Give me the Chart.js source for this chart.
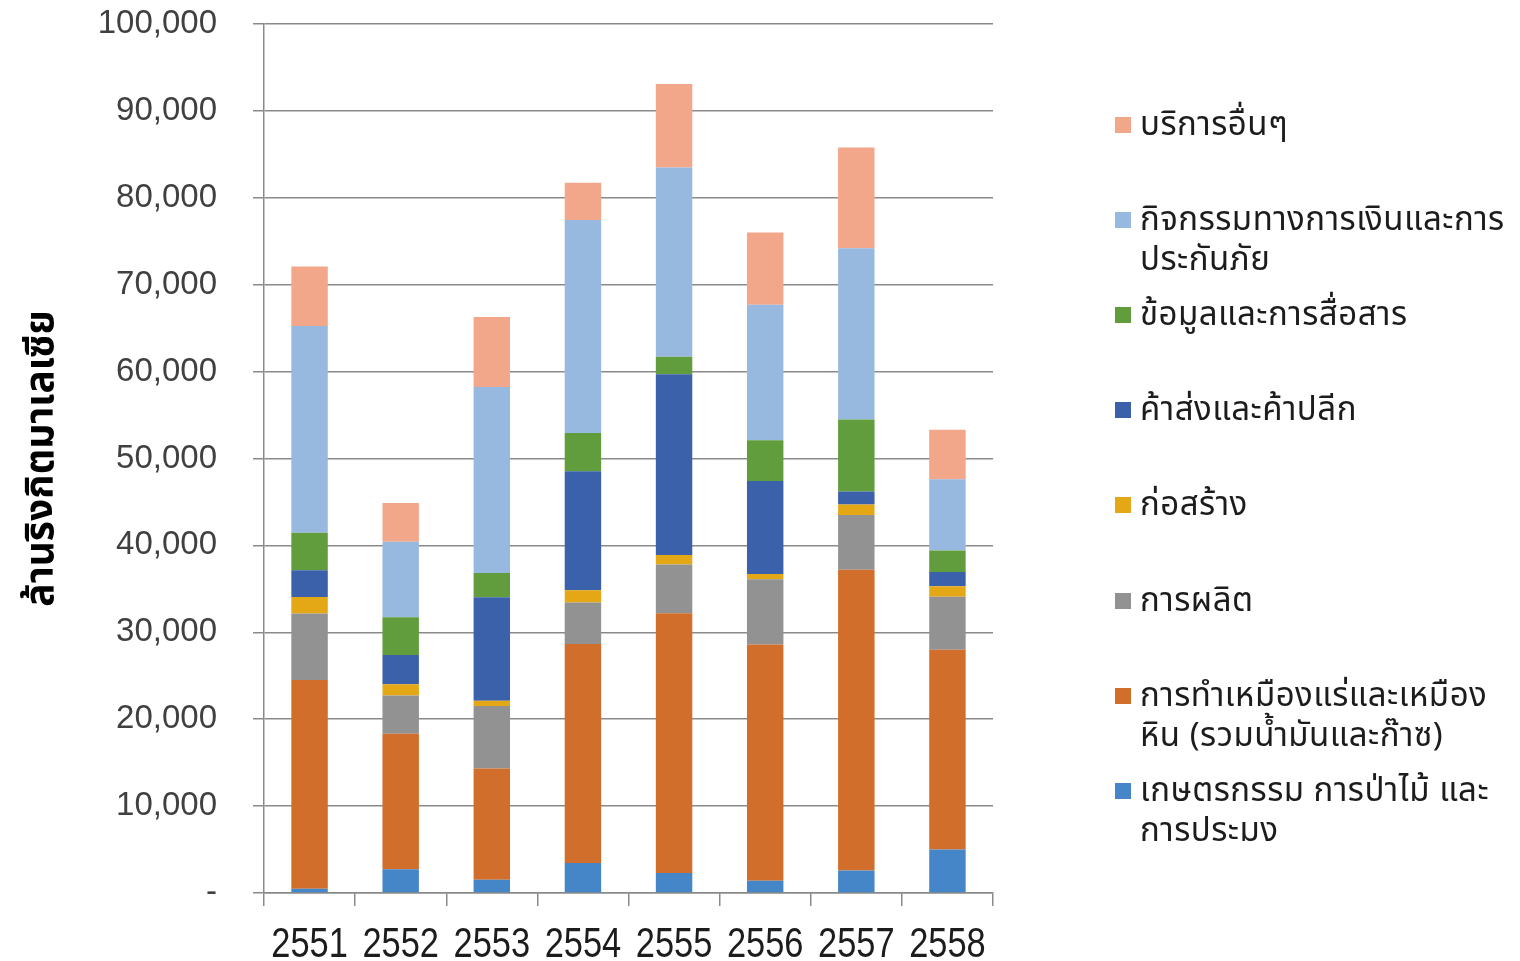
<!DOCTYPE html>
<html>
<head>
<meta charset="utf-8">
<script src="https://cdn.jsdelivr.net/npm/chart.js@4.4.0/dist/chart.umd.min.js"></script>
<style>
  html, body { margin: 0; padding: 0; background: #ffffff; }
  #wrap { position: relative; width: 1520px; height: 961px; }
  #legend { position: absolute; left: 0; top: 0; }
  .lg-item { position: absolute; left: 1115px; display: flex; align-items: flex-start; }
  .lg-box { width: 16px; height: 16px; margin-top: 12px; margin-right: 9px; flex: none; }
  .lg-text { font-family: Tahoma, "Noto Sans Thai", "Noto Sans", "DejaVu Sans", sans-serif; font-size: 33px; letter-spacing: 0.5px; line-height: 40px; color: #1c1c1c; white-space: nowrap; }
</style>
</head>
<body>
<div id="wrap">
  <canvas id="c" width="1520" height="961"></canvas>
  <div id="legend"></div>
</div>
<script>
const years = ['2551', '2552', '2553', '2554', '2555', '2556', '2557', '2558'];
const agriculture   = [500, 2730, 1530, 3440, 2300, 1400, 2600, 5000];
const mining        = [24000, 15600, 12800, 25200, 29900, 27200, 34600, 23000];
const manufacturing = [7650, 4400, 7200, 4800, 5600, 7500, 6300, 6100];
const construction  = [1900, 1300, 600, 1400, 1100, 600, 1200, 1200];
const trade         = [3100, 3350, 11900, 13700, 20800, 10700, 1500, 1650];
const infoComm      = [4300, 4350, 2800, 4400, 2000, 4700, 8300, 2450];
const finance       = [23800, 8700, 21400, 24500, 21800, 15600, 19700, 8200];
const otherServices = [6850, 4450, 8050, 4300, 9600, 8300, 11600, 5700];

const seriesNames = [
  ['เกษตรกรรม การป่าไม้ และ', 'การประมง'],
  ['การทำเหมืองแร่และเหมือง', 'หิน (รวมน้ำมันและก๊าซ)'],
  ['การผลิต'],
  ['ก่อสร้าง'],
  ['ค้าส่งและค้าปลีก'],
  ['ข้อมูลและการสื่อสาร'],
  ['กิจกรรมทางการเงินและการ', 'ประกันภัย'],
  ['บริการอื่นๆ']
];
const seriesValues = [agriculture, mining, manufacturing, construction, trade, infoComm, finance, otherServices];
const seriesColors = ['#4586c8', '#d26e2b', '#929292', '#e4a817', '#3a61aa', '#619d3d', '#98b9df', '#f2a68a'];
const yTitle = 'ล้านริงกิตมาเลเซีย';

const datasets = seriesValues.map((v, i) => ({
  label: seriesNames[i].join(' '),
  data: v,
  backgroundColor: seriesColors[i],
  borderWidth: 0,
  categoryPercentage: 1.0,
  barPercentage: 0.4
}));

const gridColor = '#8a8a8a';

// Draws the category labels of the x scale, slightly condensed like the reference font
const condensedXLabels = {
  id: 'condensedXLabels',
  afterDraw(chart) {
    const xs = chart.scales.x;
    const ctx = chart.ctx;
    ctx.save();
    ctx.font = '42px "Liberation Sans", Arial, sans-serif';
    ctx.fillStyle = '#1c1c1c';
    ctx.textAlign = 'center';
    ctx.textBaseline = 'alphabetic';
    xs.ticks.forEach((t, i) => {
      const x = xs.getPixelForTick(i);
      const label = chart.data.labels[t.value];
      ctx.save();
      ctx.translate(x, 957);
      ctx.scale(0.82, 1);
      ctx.fillText(label, 0, 0);
      ctx.restore();
    });
    ctx.restore();
  }
};

new Chart(document.getElementById('c'), {
  type: 'bar',
  data: { labels: years, datasets },
  plugins: [condensedXLabels],
  options: {
    responsive: false,
    animation: false,
    layout: { padding: { top: 24, right: 527, bottom: 0, left: 0 } },
    plugins: { legend: { display: false }, tooltip: { enabled: false } },
    scales: {
      x: {
        stacked: true,
        afterFit(s) { s.height = 68; s.paddingLeft = 0; s.paddingRight = 0; },
        grid: { display: true, offset: true, drawOnChartArea: false, drawTicks: true, tickLength: 13, color: gridColor, lineWidth: 1.5 },
        border: { display: true, color: gridColor, width: 1.5 },
        ticks: { display: false, autoSkip: false, minRotation: 0, maxRotation: 0 }
      },
      y: {
        stacked: true,
        min: 0, max: 100000,
        afterFit(s) { s.width = 264; s.paddingTop = 0; s.paddingBottom = 0; },
        grid: { color: gridColor, lineWidth: 1.5, drawTicks: true, tickLength: 11 },
        border: { display: true, color: gridColor, width: 1.5 },
        ticks: {
          stepSize: 10000,
          color: '#404040',
          padding: 36,
          font: { family: '"Liberation Sans", Arial, sans-serif', size: 33 },
          callback: (v) => v === 0 ? '-' : v.toLocaleString('en-US')
        },
        title: {
          display: true,
          text: yTitle,
          color: '#000000',
          padding: { top: 22, bottom: 0 },
          font: { family: 'Tahoma, "Noto Sans Thai", "Noto Sans", sans-serif', size: 39, weight: 'bold' }
        }
      }
    }
  }
});

// HTML legend (reverse order, like the reference)
const lg = document.getElementById('legend');
const order = seriesNames.map((_, i) => i).reverse();
order.forEach((idx, k) => {
  const item = document.createElement('div');
  item.className = 'lg-item';
  item.style.top = (125 + 95.1 * k - 20) + 'px';
  const box = document.createElement('div');
  box.className = 'lg-box';
  box.style.background = seriesColors[idx];
  const txt = document.createElement('div');
  txt.className = 'lg-text';
  txt.innerHTML = seriesNames[idx].map(s => s.replace(/&/g, '&amp;').replace(/</g, '&lt;')).join('<br>');
  item.appendChild(box);
  item.appendChild(txt);
  lg.appendChild(item);
});
</script>
</body>
</html>
